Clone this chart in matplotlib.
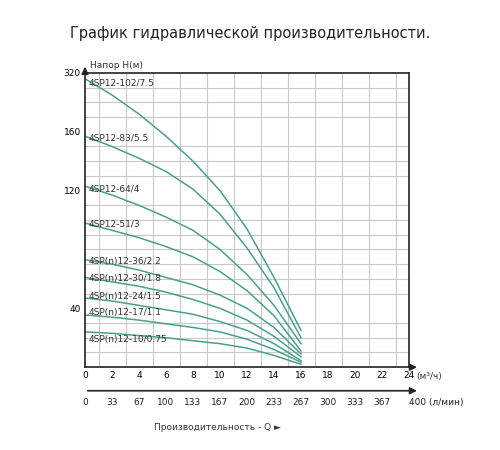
import matplotlib
matplotlib.use("Agg")
import matplotlib.pyplot as plt
import numpy as np

flow = [0, 2, 4, 6, 8, 10, 12, 14, 16]
models = ["4SP12-102/7.5", "4SP12-83/5.5", "4SP12-64/4", "4SP12-51/3",
          "4SP(n)12-36/2.2", "4SP(n)12-30/1.8", "4SP(n)12-24/1.5",
          "4SP(n)12-17/1.1", "4SP(n)12-10/0.75"]
heads = [
    [196, 185, 172, 157, 140, 120, 94, 61, 25],
    [157, 150, 142, 133, 121, 104, 81, 54, 20],
    [123, 117, 110, 102, 93, 80, 63, 42, 16],
    [98, 93, 88, 82, 75, 65, 52, 35, 11],
    [73, 70, 66, 61, 56, 49, 40, 27, 9],
    [61, 58, 55, 51, 46, 40, 32, 21, 7],
    [47, 45, 42, 39, 36, 31, 25, 16, 4.5],
    [35.5, 34, 32, 29.5, 27, 24, 19, 12, 3.4],
    [24, 23, 21.5, 20, 18, 16, 13, 8, 2],
]
label_y = [190, 153, 118, 94, 69, 57, 45, 34, 16]
ytick_pos = [40, 120, 160, 200]
ytick_lbl = ["40", "120", "160", "320"]
xticks = list(range(0, 25, 2))
lmin = ["0", "33", "67", "100", "133", "167", "200", "233", "267", "300", "333", "367", "400"]

fig = plt.figure(figsize=(5, 4.5), dpi=100)
ax = fig.add_axes([0.17, 0.184, 0.648, 0.654])
ax.set_xlim(0, 24)
ax.set_ylim(0, 200)
ax.set_xticks(np.arange(0, 25, 1), minor=True)
ax.set_yticks(np.arange(0, 201, 10), minor=True)
ax.grid(which="minor", color="#c8c8c8", lw=0.8)
ax.set_axisbelow(True)
ax.set_xticks(xticks)
ax.set_xticklabels([str(v) for v in xticks[:-1]] + ["24"], fontsize=6.5)
ax.set_yticks(ytick_pos)
ax.set_yticklabels(ytick_lbl, fontsize=6.5)
ax.tick_params(which="both", length=0, pad=3)
ax.text(24.5, -3.5, "(м³/ч)", fontsize=6.5, va="top", color="#333333")
for s in ax.spines.values():
    s.set_color("#222222"); s.set_linewidth(1.2)

for h, m, ly in zip(heads, models, label_y):
    ax.plot(flow, h, color="#4a9f8c", lw=1.1)
    ax.text(0.3, ly, m, fontsize=6.5, color="#333333", va="bottom")

fig.text(0.5, 0.915, "График гидравлической производительности.", ha="center",
         fontsize=10.5, color="#222222")
fig.text(0.18, 0.848, "Напор Н(м)", fontsize=6.5, color="#333333")
ax.annotate("", xy=(0, 206), xytext=(0, 200), annotation_clip=False,
            arrowprops=dict(arrowstyle="-|>", color="#222222", lw=1.2))
ax.annotate("", xy=(24.8, 0), xytext=(24, 0), annotation_clip=False,
            arrowprops=dict(arrowstyle="-|>", color="#222222", lw=1.2))
# second scale
ax.annotate("", xy=(24.8, -16), xytext=(0, -16), annotation_clip=False,
            arrowprops=dict(arrowstyle="-|>", color="#222222", lw=1.2))
for i, t in enumerate(lmin):
    ax.text(i * 2, -21, t + (" (л/мин)" if i == 12 else ""), fontsize=6.5,
            ha="left" if i == 12 else "center", va="top", color="#222222")
fig.text(0.435, 0.045, "Производительность - Q ►", ha="center", fontsize=6.5, color="#333333")
fig.savefig("out.png")
